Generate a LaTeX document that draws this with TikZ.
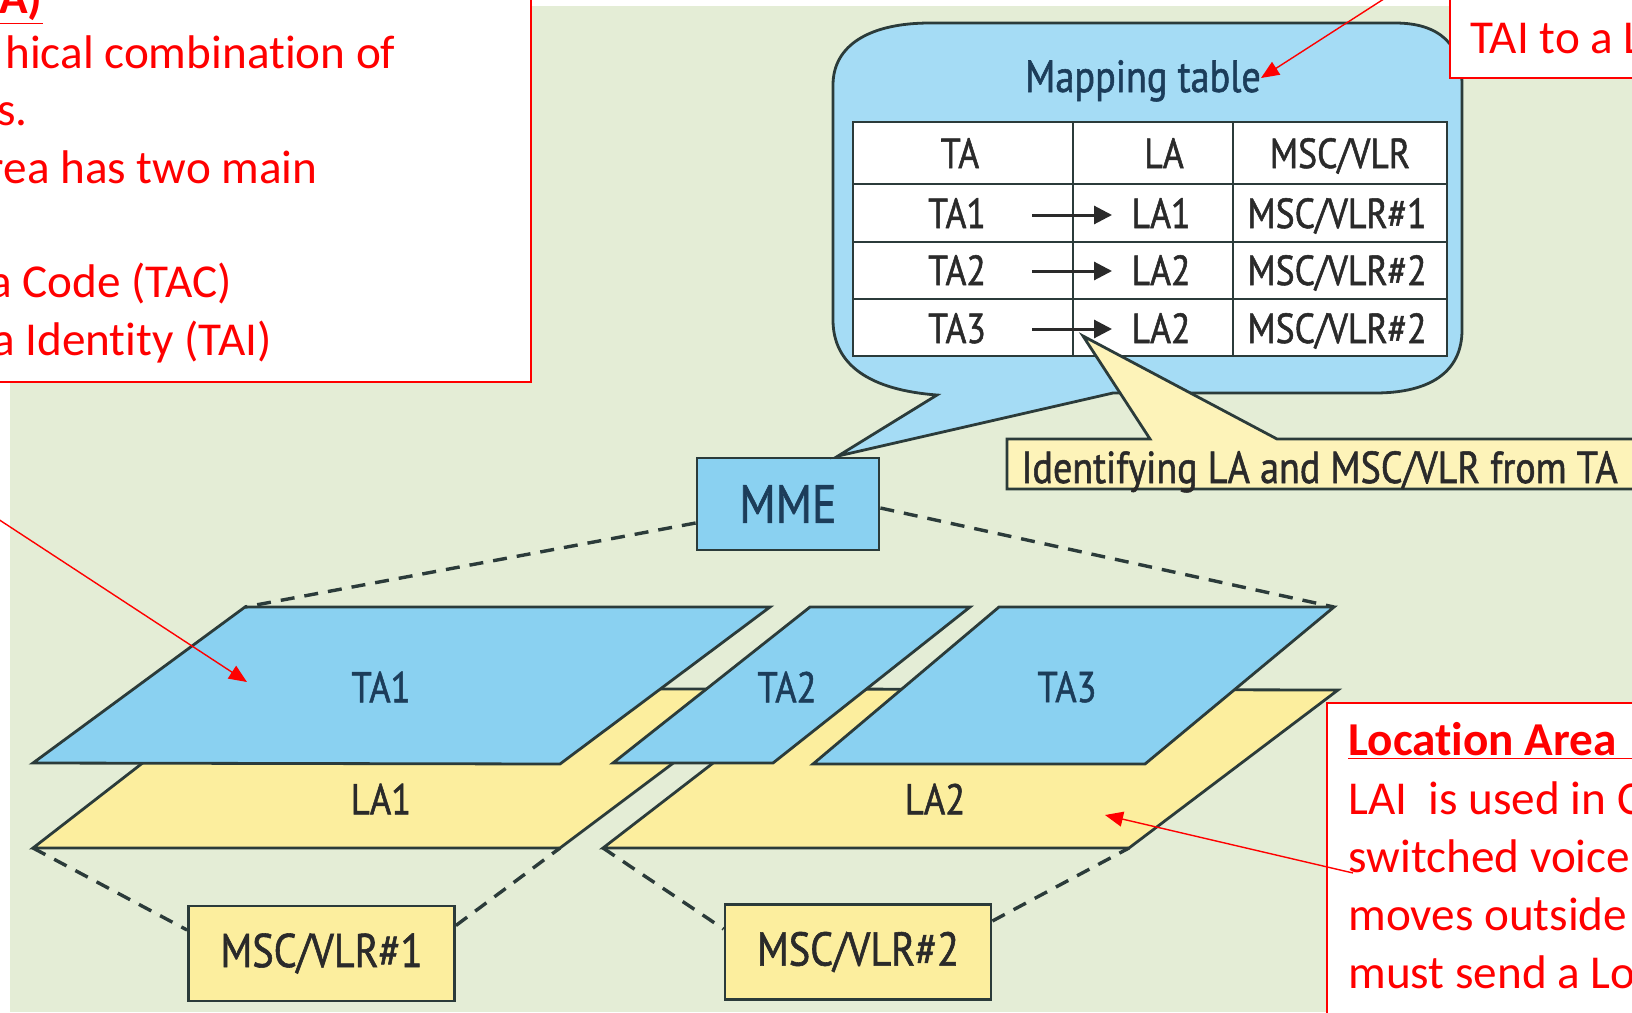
\documentclass[tikz,border=0pt]{standalone}
\usepackage{fontspec}
\setmainfont[Ligatures=NoCommon]{Carlito}
\newfontfamily\diagfont[FakeStretch=0.85,FakeBold=1.2]{PT Sans}
\usetikzlibrary{arrows.meta}

\definecolor{bggreen}{HTML}{E4EDD6}
\definecolor{tablue}{HTML}{8AD1F1}
\definecolor{bubblue}{HTML}{A5DCF5}
\definecolor{layellow}{HTML}{FCEE9E}
\definecolor{calloutyellow}{HTML}{FDF3B9}
\definecolor{edge}{HTML}{2B3B3A}
\definecolor{navy}{HTML}{1C3D5A}
\definecolor{ink}{HTML}{2A2A2A}
\definecolor{notered}{HTML}{FF0000}

\begin{document}
\begin{tikzpicture}[x=0.5pt,y=-0.5pt,
  outline/.style={draw=edge, line width=1.4pt, line join=miter},
  tashape/.style={outline, fill=tablue},
  lashape/.style={outline, fill=layellow},
  mmebox/.style={outline, fill=tablue, minimum width=91pt, minimum height=46pt,
    inner sep=0pt, text=navy, font=\diagfont\fontsize{27}{27}\selectfont},
  mscbox/.style={outline, fill=layellow, minimum width=133pt, minimum height=47.5pt,
    inner sep=0pt, text=ink, font=\diagfont\fontsize{23.7}{24}\selectfont},
  link/.style={draw=edge, line width=1.7pt, dash pattern=on 7pt off 5pt},
  arealabel/.style={inner sep=0pt, text=navy, font=\diagfont\fontsize{21.5}{21}\selectfont},
  lalabel/.style={arealabel, text=ink},
  cell/.style={inner sep=0pt, anchor=base, text=ink, font=\diagfont\fontsize{21}{21}\selectfont},
  maparrow/.style={draw=ink, line width=1.5pt, -{Triangle[length=9pt,width=9pt]}},
  note/.style={inner sep=0pt, text=notered, font=\fontsize{23.6}{28.7}\selectfont},
  notebox/.style={draw=notered, line width=1pt, fill=white},
  pointer/.style={draw=notered, line width=0.7pt, -{Triangle[length=9pt,width=7.5pt]}}]

\useasboundingbox (0,0) rectangle (1632,1012);
\clip (0,0) rectangle (1632,1012);

% page and green backdrop
\fill[white] (0,0) rectangle (1632,1012);
\fill[bggreen] (10,6) rectangle (1632,1012);

% corner points of the location areas and tracking areas
\coordinate (la1tl) at (238,689);  \coordinate (la1tr) at (772,689);
\coordinate (la1br) at (560,848);  \coordinate (la1bl) at (33,848);
\coordinate (la2tl) at (809,689);  \coordinate (la2tr) at (1338,690);
\coordinate (la2br) at (1129,848); \coordinate (la2bl) at (603,848);
\coordinate (ta1tl) at (245,607);  \coordinate (ta1tr) at (770,607);
\coordinate (ta1br) at (560,764);  \coordinate (ta1bl) at (33,763);
\coordinate (ta2tl) at (810,607);  \coordinate (ta2tr) at (970,607);
\coordinate (ta2br) at (773,763);  \coordinate (ta2bl) at (613,763);
\coordinate (ta3tl) at (999,607);  \coordinate (ta3tr) at (1334,607);
\coordinate (ta3br) at (1145,764); \coordinate (ta3bl) at (813,764);

% location area layer
\path[lashape] (la1tl) -- (la1tr) -- (la1br) -- (la1bl) -- cycle;
\path[lashape] (la2tl) -- (la2tr) -- (la2br) -- (la2bl) -- cycle;
% tracking area layer
\path[tashape] (ta1tl) -- (ta1tr) -- (ta1br) -- (ta1bl) -- cycle;
\path[tashape] (ta2tl) -- (ta2tr) -- (ta2br) -- (ta2bl) -- cycle;
\path[tashape] (ta3tl) -- (ta3tr) -- (ta3br) -- (ta3bl) -- cycle;

\node[arealabel] (ta1) at (381,687) {TA1};
\node[arealabel] (ta2) at (787,687) {TA2};
\node[arealabel] (ta3) at (1067,687) {TA3};
\node[lalabel] (la1) at (381,799) {LA1};
\node[lalabel] (la2) at (935,799) {LA2};

% core nodes
\node[mmebox] (mme) at (788,504) {MME};
\node[mscbox] (msc1) at (321.5,953.5) {MSC/VLR\#1};
\node[mscbox] (msc2) at (858,952) {MSC/VLR\#2};

\draw[link] ([yshift=-9.5pt]mme.west) -- (ta1tl);
\draw[link] ([yshift=-2pt]mme.east) -- (ta3tr);
\draw[link] (la1bl) -- ([yshift=11.75pt]msc1.west);
\draw[link] ([yshift=14pt]msc1.east) -- (la1br);
\draw[link] (la2bl) -- ([yshift=11.5pt]msc2.west);
\draw[link] ([yshift=15.5pt]msc2.east) -- (la2br);

% speech bubble holding the mapping table
\path[outline, fill=bubblue]
  (930,23) -- (1395,23) .. controls (1440,23) and (1462,45) .. (1462,85)
  -- (1462,330) .. controls (1462,372) and (1430,393) .. (1375,393)
  -- (1113,393) -- (838,456) -- (937,395)
  .. controls (870,390) and (833,365) .. (833,320)
  -- (833,85) .. controls (833,45) and (870,23) .. (930,23) -- cycle;

\node[inner sep=0pt, anchor=base, text=navy, font=\diagfont\fontsize{22.5}{22}\selectfont]
  (maptitle) at (1143,92) {Mapping table};

% table grid
\draw[outline, fill=white] (853,122) rectangle (1447,356);
\draw[outline] (853,184) -- (1447,184);
\draw[outline] (853,242) -- (1447,242);
\draw[outline] (853,299) -- (1447,299);
\draw[outline] (1073,122) -- (1073,356);
\draw[outline] (1233,122) -- (1233,356);

\node[cell] (hta)  at (960,168)  {TA};
\node[cell] (hla)  at (1164,168) {LA};
\node[cell] (hmsc) at (1340,168) {MSC/VLR};

\node[cell] (r1ta)  at (957,228)  {TA1};
\node[cell] (r1la)  at (1161,228) {LA1};
\node[cell] (r1msc) at (1337,228) {MSC/VLR\#1};
\node[cell] (r2ta)  at (957,285)  {TA2};
\node[cell] (r2la)  at (1161,285) {LA2};
\node[cell] (r2msc) at (1337,285) {MSC/VLR\#2};
\node[cell] (r3ta)  at (957,343)  {TA3};
\node[cell] (r3la)  at (1161,343) {LA2};
\node[cell] (r3msc) at (1337,343) {MSC/VLR\#2};

\coordinate (a1s) at (1032,215); \coordinate (a1e) at (1112,215);
\coordinate (a2s) at (1032,271); \coordinate (a2e) at (1112,271);
\coordinate (a3s) at (1032,329); \coordinate (a3e) at (1112,329);
\draw[maparrow] (a1s) -- (a1e);
\draw[maparrow] (a2s) -- (a2e);
\draw[maparrow] (a3s) -- (a3e);

% callout explaining the lookup
\path[outline, fill=calloutyellow]
  (1007,439) -- (1150,439) -- (1083,336) -- (1277,439) -- (1660,439)
  -- (1660,489) -- (1007,489) -- cycle;
\node[inner sep=0pt, anchor=base west, text=ink, font=\diagfont\fontsize{22.4}{22}\selectfont]
  (lookup) at (1021,483) {Identifying LA and MSC/VLR from TA};

% red notes
\draw[notebox] (-20,-20) rectangle (531,382);
\node[note, anchor=base east] (tahead) at (43,13) {\underline{\textbf{A)}}};
\node[note, anchor=base east] (tal1) at (396,68) {hical combination of};
\node[note, anchor=base east] (tal2) at (28,125) {s.};
\node[note, anchor=base east] (tal3) at (318,183) {rea has two main};
\node[note, anchor=base east] (tal4) at (232,297) {a Code (TAC)};
\node[note, anchor=base east] (tal5) at (272,355) {a Identity (TAI)};

\draw[notebox] (1450,-20) rectangle (1660,78);
\node[note, anchor=base west] (tainote) at (1470,53) {TAI to a L};

\draw[notebox] (1327,703) rectangle (1660,1030);
\node[note, anchor=base west] (lahead) at (1348,755) {\underline{\textbf{Location Area\hspace{1.5em}}}};
\node[note, anchor=base west] (lal1) at (1348,814) {LAI\ \ is used in C};
\node[note, anchor=base west] (lal2) at (1348,872) {switched voice};
\node[note, anchor=base west] (lal3) at (1348,930) {moves outside};
\node[note, anchor=base west] (lal4) at (1348,988) {must send a Lo};

% red pointers
\coordinate (p1s) at (-2,519);   \coordinate (p1e) at (247,682);
\coordinate (p2s) at (1390,-5);  \coordinate (p2e) at (1261,78);
\coordinate (p3s) at (1353,873); \coordinate (p3e) at (1105,815);
\draw[pointer] (p1s) -- (p1e);
\draw[pointer] (p2s) -- (p2e);
\draw[pointer] (p3s) -- (p3e);

\end{tikzpicture}
\end{document}
